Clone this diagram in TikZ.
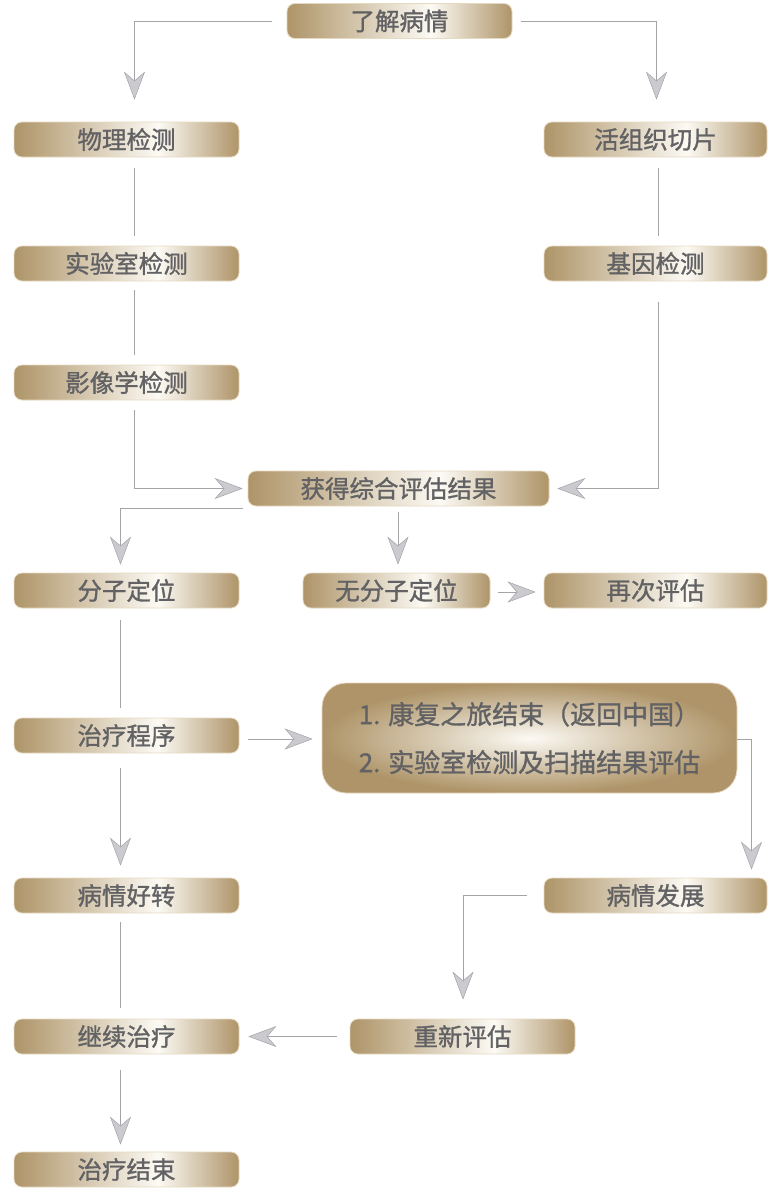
\documentclass[tikz,border=0pt]{standalone}
\usepackage{fontspec}
\newfontfamily\cjk[FakeBold=1.2]{Noto Sans CJK SC}
\usetikzlibrary{arrows.meta}
\definecolor{gold}{HTML}{AE9468}
\definecolor{lightgold}{HTML}{FCFAF4}
\definecolor{txtgray}{HTML}{626264}
\definecolor{linegray}{HTML}{A4A4A8}
\definecolor{tipgray}{HTML}{CBCBCF}
\definecolor{edgegold}{HTML}{E6DAC2}
\pgfdeclarehorizontalshading{goldbar}{100bp}{color(0bp)=(gold); color(25bp)=(gold); color(57bp)=(lightgold); color(75bp)=(gold); color(100bp)=(gold)}
\tikzset{
  box/.style={shading=goldbar, draw=edgegold, line width=0.8pt, rounded corners=8pt,
    minimum width=225pt, minimum height=35pt, inner sep=0pt,
    text=txtgray, font=\cjk\fontsize{24.5pt}{28pt}\selectfont},
  bigbox/.style={inner color=lightgold, outer color=gold, draw=edgegold, line width=0.8pt,
    rounded corners=24pt, minimum width=415pt, minimum height=110pt, inner sep=0pt,
    text=txtgray, font=\cjk\fontsize{26pt}{48pt}\selectfont, align=left},
  conn/.style={draw=linegray, line width=1pt},
  arr/.style={conn, -{Stealth[length=28pt, width=21pt, inset=9pt, fill=tipgray, color=linegray, line width=0.5pt]}}
}
\begin{document}
\begin{tikzpicture}[x=1pt, y=-1pt]
\useasboundingbox (0,0) rectangle (768,1189);
\node[box, minimum width=225pt] (top) at (399.5,21) {了解病情};
\node[box] (wuli) at (126.5,139.5) {物理检测};
\node[box, minimum width=223pt] (huozu) at (655.5,139.5) {活组织切片};
\node[box] (shiyan) at (126.5,263.5) {实验室检测};
\node[box, minimum width=223pt] (jiyin) at (655.5,263.5) {基因检测};
\node[box] (ying) at (126.5,382.5) {影像学检测};
\node[box, minimum width=301pt] (huode) at (398.5,488.5) {获得综合评估结果};
\node[box] (fenzi) at (126.5,590.5) {分子定位};
\node[box, minimum width=187pt] (wufenzi) at (396.5,590.5) {无分子定位};
\node[box, minimum width=223pt] (zaici) at (655.5,590.5) {再次评估};
\node[box] (zhiliao) at (126.5,735.5) {治疗程序};
\node[bigbox] (big) at (529.5,738) {1. 康复之旅结束（返回中国）\\2. 实验室检测及扫描结果评估};
\node[box] (haozhuan) at (126.5,895.5) {病情好转};
\node[box, minimum width=223pt] (fazhan) at (655.5,895.5) {病情发展};
\node[box] (jixu) at (126.5,1036.5) {继续治疗};
\node[box] (chongxin) at (462.5,1036.5) {重新评估};
\node[box] (jieshu) at (126.5,1169.5) {治疗结束};

\draw[arr, shorten <=15pt, shorten >=22pt] (top.west) -| ([xshift=8pt]wuli.north);
\draw[arr, shorten <=9pt, shorten >=22pt] (top.east) -| ([xshift=1pt]huozu.north);
\draw[conn, shorten <=11pt, shorten >=10pt] ([xshift=8pt]wuli.south) -- ([xshift=8pt]shiyan.north);
\draw[conn, shorten <=9pt, shorten >=10pt] ([xshift=8pt]shiyan.south) -- ([xshift=8pt]ying.north);
\draw[conn, shorten <=11pt, shorten >=10pt] ([xshift=3pt]huozu.south) -- ([xshift=3pt]jiyin.north);
\draw[arr, shorten <=21pt, shorten >=8pt] ([xshift=3pt]jiyin.south) |- (huode.east);
\draw[arr, shorten <=10pt, shorten >=5pt] ([xshift=8pt]ying.south) |- (huode.west);
\draw[arr, shorten >=8pt] ([xshift=-5pt,yshift=-2pt]huode.south west) -| ([xshift=-6pt]fenzi.north);
\draw[arr, shorten <=6pt, shorten >=8pt] ([xshift=-0.5pt]huode.south) -- ([xshift=1.5pt]wufenzi.north);
\draw[arr, shorten <=8pt, shorten >=8pt] ([yshift=-1.5pt]wufenzi.east) -- ([yshift=-1.5pt]zaici.west);
\draw[conn, shorten <=12pt, shorten >=10pt] ([xshift=-6pt]fenzi.south) -- ([xshift=-6pt]zhiliao.north);
\draw[arr, shorten <=9pt, shorten >=9pt] ([yshift=-3.5pt]zhiliao.east) -- ([yshift=-1pt]big.west);
\draw[arr, shorten >=8pt] ([yshift=-1pt]big.east) -| ([xshift=96pt]fazhan.north);
\draw[arr, shorten <=15pt, shorten >=12pt] ([xshift=-6pt]zhiliao.south) -- ([xshift=-6pt]haozhuan.north);
\draw[conn, shorten <=9pt, shorten >=11pt] ([xshift=-6pt]haozhuan.south) -- ([xshift=-6pt]jixu.north);
\draw[arr, shorten <=17pt, shorten >=19pt] (fazhan.west) -| ([xshift=0.5pt]chongxin.north);
\draw[arr, shorten <=13pt, shorten >=9pt] (chongxin.west) -- (jixu.east);
\draw[arr, shorten <=16pt, shorten >=7pt] ([xshift=-6pt]jixu.south) -- ([xshift=-6pt]jieshu.north);
\end{tikzpicture}
\end{document}
